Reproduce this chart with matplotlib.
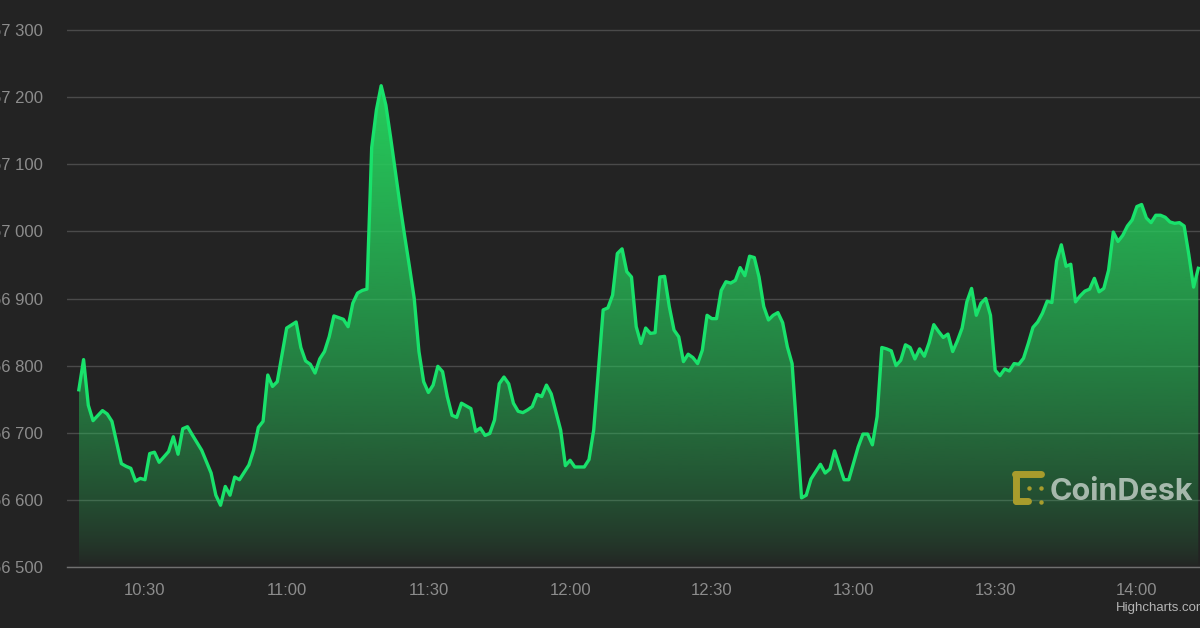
import numpy as np
import pandas as pd
import matplotlib
matplotlib.use("Agg")
import matplotlib.pyplot as plt
import matplotlib.dates as mdates
from matplotlib.lines import Line2D

# DADOS (minuto a minuto)
horas = [
    "10:16", "10:17", "10:18", "10:19", "10:21", "10:22", "10:23", "10:25", "10:26", "10:27",
    "10:28", "10:29", "10:30", "10:31", "10:32", "10:33", "10:34", "10:35", "10:36", "10:37",
    "10:38", "10:39", "10:40", "10:42", "10:44", "10:45", "10:46", "10:47", "10:48", "10:49",
    "10:50", "10:52", "10:53", "10:54", "10:55", "10:56", "10:57", "10:58", "11:00", "11:02",
    "11:03", "11:04", "11:05", "11:06", "11:07", "11:08", "11:09", "11:10", "11:12", "11:13",
    "11:14", "11:15", "11:16", "11:17", "11:18", "11:19", "11:20", "11:21", "11:22", "11:23",
    "11:24", "11:25", "11:26", "11:27", "11:28", "11:29", "11:30", "11:31", "11:32", "11:33",
    "11:34", "11:35", "11:36", "11:37", "11:39", "11:40", "11:41", "11:42", "11:43", "11:44",
    "11:45", "11:46", "11:47", "11:48", "11:49", "11:50", "11:51", "11:52", "11:53", "11:54",
    "11:55", "11:56", "11:58", "11:59", "12:00", "12:01", "12:03", "12:04", "12:05", "12:06",
    "12:07", "12:08", "12:09", "12:10", "12:11", "12:12", "12:13", "12:14", "12:15", "12:16",
    "12:17", "12:18", "12:19", "12:20", "12:21", "12:22", "12:23", "12:24", "12:25", "12:26",
    "12:27", "12:28", "12:29", "12:30", "12:31", "12:32", "12:33", "12:34", "12:35", "12:36",
    "12:37", "12:38", "12:39", "12:40", "12:41", "12:42", "12:43", "12:44", "12:45", "12:46",
    "12:47", "12:49", "12:50", "12:51", "12:52", "12:53", "12:54", "12:55", "12:56", "12:58",
    "12:59", "13:01", "13:02", "13:03", "13:04", "13:05", "13:06", "13:07", "13:08", "13:09",
    "13:10", "13:11", "13:12", "13:13", "13:14", "13:15", "13:16", "13:17", "13:18", "13:19",
    "13:20", "13:21", "13:22", "13:23", "13:24", "13:25", "13:26", "13:27", "13:28", "13:29",
    "13:30", "13:31", "13:32", "13:33", "13:34", "13:35", "13:36", "13:37", "13:38", "13:39",
    "13:40", "13:41", "13:42", "13:43", "13:44", "13:45", "13:46", "13:47", "13:48", "13:49",
    "13:50", "13:51", "13:52", "13:53", "13:54", "13:55", "13:56", "13:57", "13:58", "13:59",
    "14:00", "14:01", "14:02", "14:03", "14:04", "14:05", "14:06", "14:07", "14:08", "14:09",
    "14:10", "14:11", "14:12", "14:13",
]
precos = [
    66764, 66809, 66741, 66718, 66733, 66728, 66717, 66654, 66650, 66647,
    66628, 66632, 66630, 66669, 66671, 66656, 66664, 66672, 66694, 66668,
    66706, 66709, 66697, 66674, 66640, 66607, 66592, 66620, 66607, 66634,
    66630, 66652, 66674, 66708, 66717, 66786, 66769, 66776, 66856, 66865,
    66827, 66807, 66802, 66789, 66810, 66821, 66843, 66874, 66869, 66858,
    66893, 66908, 66912, 66914, 67125, 67181, 67217, 67188, 67140, 67090,
    67039, 66992, 66947, 66900, 66821, 66776, 66760, 66771, 66799, 66791,
    66754, 66726, 66723, 66744, 66736, 66702, 66707, 66696, 66699, 66719,
    66773, 66783, 66773, 66744, 66732, 66730, 66734, 66739, 66757, 66754,
    66771, 66758, 66704, 66651, 66659, 66649, 66649, 66660, 66704, 66793,
    66883, 66886, 66905, 66967, 66974, 66940, 66932, 66858, 66833, 66856,
    66848, 66849, 66932, 66933, 66888, 66853, 66843, 66806, 66817, 66812,
    66803, 66823, 66875, 66870, 66870, 66912, 66925, 66923, 66927, 66946,
    66934, 66963, 66961, 66932, 66888, 66868, 66875, 66879, 66864, 66828,
    66803, 66603, 66607, 66631, 66642, 66653, 66640, 66646, 66673, 66630,
    66630, 66679, 66698, 66698, 66682, 66724, 66827, 66825, 66822, 66800,
    66808, 66831, 66827, 66810, 66825, 66814, 66834, 66861, 66851, 66842,
    66847, 66821, 66837, 66856, 66895, 66915, 66875, 66893, 66900, 66875,
    66793, 66785, 66795, 66792, 66803, 66802, 66811, 66833, 66857, 66865,
    66878, 66896, 66894, 66956, 66980, 66948, 66951, 66895, 66904, 66911,
    66914, 66930, 66910, 66915, 66942, 66999, 66985, 66994, 67008, 67017,
    67037, 67040, 67020, 67013, 67024, 67024, 67021, 67014, 67012, 67013,
    67008, 66965, 66917, 66945,
]
marcas_y = [66500, 66600, 66700, 66800, 66900, 67000, 67100, 67200, 67300]

FUNDO = "#232323"
VERDE = "#19e26b"

x = mdates.date2num(pd.to_datetime(["2024-03-20 " + h for h in horas]))
y = np.array(precos, dtype=float)
um_min = 1.0 / 1440
x0 = mdates.date2num(pd.Timestamp("2024-03-20 10:30"))

fig = plt.figure(figsize=(12, 6.28), dpi=100, facecolor=FUNDO)
ax = fig.add_axes([67 / 1200, 61 / 628, 1133 / 1200, 567 / 628])
ax.set_facecolor(FUNDO)

xmin = x0 - 16.51 * um_min
xmax = x0 + 223.36 * um_min
ymin, ymax = 66500, 67344.7
ax.set_xlim(xmin, xmax)
ax.set_ylim(ymin, ymax)

# preenchimento em degrade, recortado pela area
area = ax.fill_between(x, y, ymin, facecolor="none", edgecolor="none")
topo = y.max()
n = 400
t = np.linspace(0, 1, n)  # 0 = topo, 1 = base
alfa = np.clip(1 - t, 0, 1) ** 0.7
cor = np.array([38, 205, 92]) / 255
grad = np.zeros((n, 1, 4))
grad[:, 0, :3] = cor
grad[:, 0, 3] = alfa
img = ax.imshow(grad, extent=[x[0], x[-1], ymin, topo], origin="upper",
                aspect="auto", interpolation="bilinear", zorder=1)
img.set_clip_path(area.get_paths()[0], transform=ax.transData)

ax.plot(x, y, color=VERDE, lw=2.4, solid_joinstyle="round", zorder=3)

# eixos e grade
ax.set_yticks(marcas_y)
ax.set_yticklabels([f"{v // 1000} {v % 1000:03d}" for v in marcas_y])
ax.grid(axis="y", color="#4a4a4a", lw=1.0, zorder=0)
ax.set_axisbelow(True)
for lado in ["top", "right", "left"]:
    ax.spines[lado].set_visible(False)
ax.spines["bottom"].set_color("#707070")
ax.spines["bottom"].set_linewidth(1.0)
ax.xaxis.set_major_locator(mdates.MinuteLocator(byminute=[0, 30]))
ax.xaxis.set_major_formatter(mdates.DateFormatter("%H:%M"))
ax.tick_params(axis="y", length=0, pad=17.3, labelsize=12, labelcolor="#8c8c8c")
ax.tick_params(axis="x", length=0, pad=11.5, labelsize=12, labelcolor="#8c8c8c")
for lbl in ax.get_xticklabels() + ax.get_yticklabels():
    lbl.set_fontfamily("Liberation Sans")

# logotipo CoinDesk
def px(xp, yp):
    return xp / 1200, 1 - yp / 628

dourado = "#a89c2c"
for (xa, ya), (xb, yb) in [((1015, 474), (1041, 474)),
                           ((1016, 474), (1016, 501)),
                           ((1016, 501), (1028, 501))]:
    p1, p2 = px(xa, ya), px(xb, yb)
    fig.add_artist(Line2D([p1[0], p2[0]], [p1[1], p2[1]], transform=fig.transFigure,
                          color=dourado, lw=5.0, solid_capstyle="round", zorder=5))
for xp, yp in [(1029, 488), (1041, 488), (1041, 502)]:
    p = px(xp, yp)
    fig.add_artist(Line2D([p[0]], [p[1]], transform=fig.transFigure, marker="o",
                          ms=3.2, color=dourado, mew=0, zorder=5))
fig.text(1050 / 1200, 1 - 500 / 628, "CoinDesk", fontsize=22, fontweight="bold",
         family="Inter", color="white", alpha=0.6, ha="left", va="baseline", zorder=5)

fig.text(1115.5 / 1200, 1 - 610.5 / 628, "Highcharts.com", fontsize=9.5,
         family="Liberation Sans", color="#b5b5b5", ha="left", va="baseline")

fig.savefig("out.png", dpi=100, facecolor=FUNDO)
